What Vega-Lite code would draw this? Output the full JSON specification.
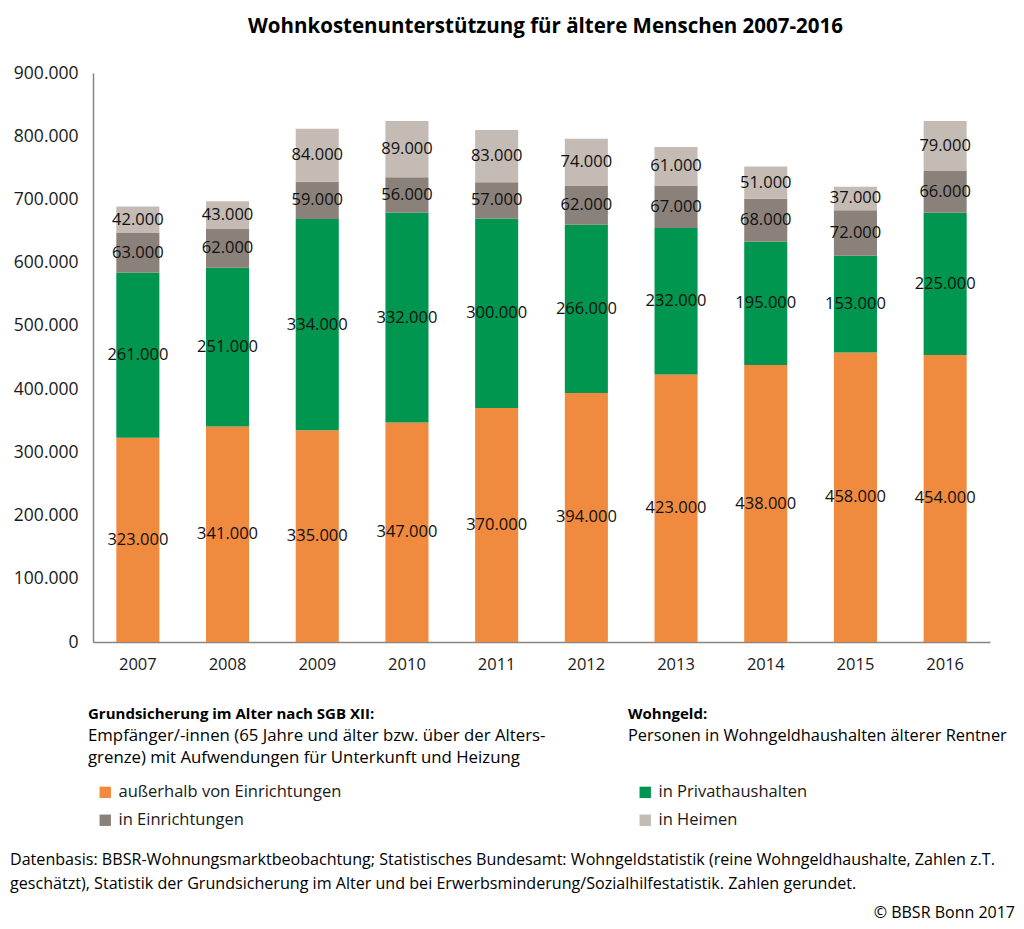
{
  "$schema": "https://vega.github.io/schema/vega-lite/v6.json",
  "width": 897,
  "height": 569,
  "autosize": {"type": "none"},
  "padding": {"left": 93, "top": 73, "right": 34, "bottom": 287},
  "background": "white",
  "config": {
    "locale": {"number": {"decimal": ",", "thousands": ".", "grouping": [3], "currency": ["", " €"]}},
    "view": {"stroke": null},
    "font": "Open Sans"
  },
  "title": {
    "text": "Wohnkostenunterstützung für ältere Menschen 2007-2016",
    "anchor": "middle",
    "font": "Open Sans",
    "fontSize": 20.5,
    "fontWeight": "bold",
    "color": "#000000",
    "offset": 27,
    "dx": 4
  },
  "datasets": {
    "werte": [
      {"jahr": "2007", "serie": "außerhalb von Einrichtungen", "k": 1, "wert": 323000},
      {"jahr": "2007", "serie": "in Privathaushalten", "k": 2, "wert": 261000},
      {"jahr": "2007", "serie": "in Einrichtungen", "k": 3, "wert": 63000},
      {"jahr": "2007", "serie": "in Heimen", "k": 4, "wert": 42000},
      {"jahr": "2008", "serie": "außerhalb von Einrichtungen", "k": 1, "wert": 341000},
      {"jahr": "2008", "serie": "in Privathaushalten", "k": 2, "wert": 251000},
      {"jahr": "2008", "serie": "in Einrichtungen", "k": 3, "wert": 62000},
      {"jahr": "2008", "serie": "in Heimen", "k": 4, "wert": 43000},
      {"jahr": "2009", "serie": "außerhalb von Einrichtungen", "k": 1, "wert": 335000},
      {"jahr": "2009", "serie": "in Privathaushalten", "k": 2, "wert": 334000},
      {"jahr": "2009", "serie": "in Einrichtungen", "k": 3, "wert": 59000},
      {"jahr": "2009", "serie": "in Heimen", "k": 4, "wert": 84000},
      {"jahr": "2010", "serie": "außerhalb von Einrichtungen", "k": 1, "wert": 347000},
      {"jahr": "2010", "serie": "in Privathaushalten", "k": 2, "wert": 332000},
      {"jahr": "2010", "serie": "in Einrichtungen", "k": 3, "wert": 56000},
      {"jahr": "2010", "serie": "in Heimen", "k": 4, "wert": 89000},
      {"jahr": "2011", "serie": "außerhalb von Einrichtungen", "k": 1, "wert": 370000},
      {"jahr": "2011", "serie": "in Privathaushalten", "k": 2, "wert": 300000},
      {"jahr": "2011", "serie": "in Einrichtungen", "k": 3, "wert": 57000},
      {"jahr": "2011", "serie": "in Heimen", "k": 4, "wert": 83000},
      {"jahr": "2012", "serie": "außerhalb von Einrichtungen", "k": 1, "wert": 394000},
      {"jahr": "2012", "serie": "in Privathaushalten", "k": 2, "wert": 266000},
      {"jahr": "2012", "serie": "in Einrichtungen", "k": 3, "wert": 62000},
      {"jahr": "2012", "serie": "in Heimen", "k": 4, "wert": 74000},
      {"jahr": "2013", "serie": "außerhalb von Einrichtungen", "k": 1, "wert": 423000},
      {"jahr": "2013", "serie": "in Privathaushalten", "k": 2, "wert": 232000},
      {"jahr": "2013", "serie": "in Einrichtungen", "k": 3, "wert": 67000},
      {"jahr": "2013", "serie": "in Heimen", "k": 4, "wert": 61000},
      {"jahr": "2014", "serie": "außerhalb von Einrichtungen", "k": 1, "wert": 438000},
      {"jahr": "2014", "serie": "in Privathaushalten", "k": 2, "wert": 195000},
      {"jahr": "2014", "serie": "in Einrichtungen", "k": 3, "wert": 68000},
      {"jahr": "2014", "serie": "in Heimen", "k": 4, "wert": 51000},
      {"jahr": "2015", "serie": "außerhalb von Einrichtungen", "k": 1, "wert": 458000},
      {"jahr": "2015", "serie": "in Privathaushalten", "k": 2, "wert": 153000},
      {"jahr": "2015", "serie": "in Einrichtungen", "k": 3, "wert": 72000},
      {"jahr": "2015", "serie": "in Heimen", "k": 4, "wert": 37000},
      {"jahr": "2016", "serie": "außerhalb von Einrichtungen", "k": 1, "wert": 454000},
      {"jahr": "2016", "serie": "in Privathaushalten", "k": 2, "wert": 225000},
      {"jahr": "2016", "serie": "in Einrichtungen", "k": 3, "wert": 66000},
      {"jahr": "2016", "serie": "in Heimen", "k": 4, "wert": 79000}
    ],
    "notizen": [
      {"id": "kopf_links", "text": "Grundsicherung im Alter nach SGB XII:"},
      {"id": "text_links", "text": "Empfänger/-innen (65 Jahre und älter bzw. über der Alters-\ngrenze) mit Aufwendungen für Unterkunft und Heizung"},
      {"id": "kopf_rechts", "text": "Wohngeld:"},
      {"id": "text_rechts", "text": "Personen in Wohngeldhaushalten älterer Rentner"},
      {"id": "fuss", "text": "Datenbasis: BBSR-Wohnungsmarktbeobachtung; Statistisches Bundesamt: Wohngeldstatistik (reine Wohngeldhaushalte, Zahlen z.T.\ngeschätzt), Statistik der Grundsicherung im Alter und bei Erwerbsminderung/Sozialhilfestatistik. Zahlen gerundet."},
      {"id": "copy", "text": "© BBSR Bonn 2017"}
    ]
  },
  "layer": [
    {
      "data": {"name": "werte"},
      "transform": [
        {"stack": "wert", "groupby": ["jahr"], "sort": [{"field": "k", "order": "ascending"}], "as": ["y0", "y1"]},
        {"calculate": "(datum.y0 + datum.y1) / 2", "as": "ym"}
      ],
      "encoding": {
        "x": {
          "field": "jahr",
          "type": "ordinal",
          "scale": {"paddingInner": 0.52, "paddingOuter": 0.26},
          "axis": {
            "title": null,
            "labelAngle": 0,
            "labelFont": "Open Sans",
            "labelFontSize": 16.5,
            "labelColor": "#1a1a1a",
            "labelPadding": 14,
            "ticks": false,
            "domainColor": "#8a847f",
            "domainWidth": 1.5,
            "grid": false
          }
        }
      },
      "layer": [
        {
          "mark": {"type": "bar"},
          "encoding": {
            "y": {
              "field": "y0",
              "type": "quantitative",
              "scale": {"domain": [0, 900000], "nice": false},
              "axis": {
                "title": null,
                "values": [0, 100000, 200000, 300000, 400000, 500000, 600000, 700000, 800000, 900000],
                "format": ",d",
                "labelFont": "Open Sans",
                "labelFontSize": 17.5,
                "labelColor": "#1a1a1a",
                "labelPadding": 15,
                "ticks": false,
                "grid": false,
                "domainColor": "#8a847f",
                "domainWidth": 1.5
              }
            },
            "y2": {"field": "y1"},
            "color": {
              "field": "serie",
              "type": "nominal",
              "scale": {
                "domain": ["außerhalb von Einrichtungen", "in Privathaushalten", "in Einrichtungen", "in Heimen"],
                "range": ["#EF8A3F", "#00964F", "#8A817A", "#C4BBB5"]
              },
              "legend": {
                "title": null,
                "orient": "none",
                "legendX": 4,
                "legendY": 711,
                "direction": "horizontal",
                "columns": 2,
                "columnPadding": 295,
                "rowPadding": 11,
                "symbolType": "square",
                "symbolSize": 130,
                "symbolStrokeWidth": 0,
                "labelFont": "Open Sans",
                "labelFontSize": 16.5,
                "labelColor": "#1a1a1a",
                "labelOffset": 5,
                "labelLimit": 400
              }
            }
          }
        },
        {
          "mark": {"type": "text", "font": "Open Sans", "fontSize": 16.5, "color": "#111111", "baseline": "middle"},
          "encoding": {
            "y": {"field": "ym", "type": "quantitative", "scale": {"domain": [0, 900000], "nice": false}},
            "text": {"field": "wert", "type": "quantitative", "format": ",d"}
          }
        }
      ]
    },
    {
      "data": {"name": "notizen"},
      "transform": [{"filter": "datum.id === 'kopf_links'"}],
      "mark": {"type": "text", "font": "Open Sans", "fontSize": 15, "fontWeight": "bold", "color": "#000000", "align": "left", "baseline": "top"},
      "encoding": {"x": {"value": -5}, "y": {"value": 634}, "text": {"field": "text"}}
    },
    {
      "data": {"name": "notizen"},
      "transform": [{"filter": "datum.id === 'kopf_rechts'"}],
      "mark": {"type": "text", "font": "Open Sans", "fontSize": 15, "fontWeight": "bold", "color": "#000000", "align": "left", "baseline": "top"},
      "encoding": {"x": {"value": 535}, "y": {"value": 634}, "text": {"field": "text"}}
    },
    {
      "data": {"name": "notizen"},
      "transform": [{"filter": "datum.id === 'text_links'"}],
      "mark": {"type": "text", "font": "Open Sans", "fontSize": 16.8, "color": "#000000", "align": "left", "baseline": "top", "lineBreak": "\n", "lineHeight": 22},
      "encoding": {"x": {"value": -5}, "y": {"value": 655}, "text": {"field": "text"}}
    },
    {
      "data": {"name": "notizen"},
      "transform": [{"filter": "datum.id === 'text_rechts'"}],
      "mark": {"type": "text", "font": "Open Sans", "fontSize": 16.4, "color": "#000000", "align": "left", "baseline": "top"},
      "encoding": {"x": {"value": 535}, "y": {"value": 655}, "text": {"field": "text"}}
    },
    {
      "data": {"name": "notizen"},
      "transform": [{"filter": "datum.id === 'fuss'"}],
      "mark": {"type": "text", "font": "Open Sans", "fontSize": 16.1, "color": "#000000", "align": "left", "baseline": "top", "lineBreak": "\n", "lineHeight": 24},
      "encoding": {"x": {"value": -83}, "y": {"value": 779}, "text": {"field": "text"}}
    },
    {
      "data": {"name": "notizen"},
      "transform": [{"filter": "datum.id === 'copy'"}],
      "mark": {"type": "text", "font": "Open Sans", "fontSize": 16, "color": "#000000", "align": "right", "baseline": "top"},
      "encoding": {"x": {"value": 922}, "y": {"value": 832}, "text": {"field": "text"}}
    }
  ]
}
